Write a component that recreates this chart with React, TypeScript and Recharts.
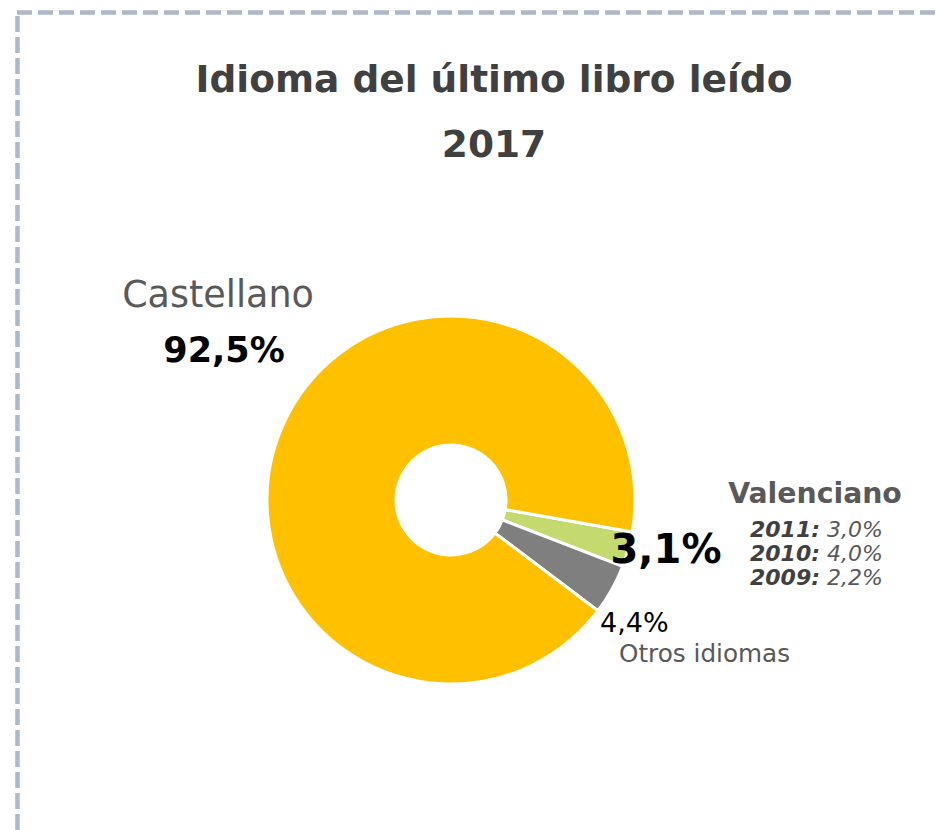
import React from "react";
import { PieChart, Pie, Cell } from "recharts";

const categories = ["Valenciano", "Otros idiomas", "Castellano"];
const values = [3.1, 4.4, 92.5];
const valueLabels = ["3,1%", "4,4%", "92,5%"];
const colors = ["#C4DA6F", "#7F7F7F", "#FFC000"];
const valencianoYears = ["2011:", "2010:", "2009:"];
const valencianoHistory = ["3,0%", "4,0%", "2,2%"];
const titleLines = ["Idioma del último libro leído", "2017"];

const data = categories.map((name, i) => ({ name, value: values[i] }));

const FONT = "'DejaVu Sans', Verdana, sans-serif";

export default function App() {
  return (
    <div style={{ position: "absolute", left: 0, top: 0, width: 940, height: 830, background: "#fff" }}>
      <div style={{ position: "absolute", left: 0, top: 0 }}>
        <PieChart width={940} height={830} margin={{ top: 0, right: 0, bottom: 0, left: 0 }}>
          <Pie
            data={data}
            dataKey="value"
            nameKey="name"
            cx={451}
            cy={500}
            innerRadius={55}
            outerRadius={184}
            startAngle={-10}
            endAngle={-370}
            stroke="#ffffff"
            strokeWidth={3}
            isAnimationActive={false}
            label={false}
            labelLine={false}
          >
            {data.map((d, i) => (
              <Cell key={d.name} fill={colors[i]} />
            ))}
          </Pie>
        </PieChart>
      </div>
      <svg
        width={940}
        height={830}
        style={{ position: "absolute", left: 0, top: 0, pointerEvents: "none" }}
        fontFamily={FONT}
      >
        <line x1={17} y1={12.5} x2={940} y2={12.5} stroke="#adb8ca" strokeWidth={4.5} strokeDasharray="15 6" />
        <line x1={17.5} y1={16} x2={17.5} y2={830} stroke="#adb8ca" strokeWidth={4.5} strokeDasharray="16 5" />

        <text x={494} y={92} textAnchor="middle" fontSize={37.5} fontWeight="bold" fill="#404040">
          {titleLines[0]}
        </text>
        <text x={494} y={157} textAnchor="middle" fontSize={37.5} fontWeight="bold" fill="#404040">
          {titleLines[1]}
        </text>

        <text x={218} y={307} textAnchor="middle" fontSize={36.5} fill="#595959">
          {categories[2]}
        </text>
        <text x={224} y={362} textAnchor="middle" fontSize={35} fontWeight="bold" fill="#000">
          {valueLabels[2]}
        </text>

        <text x={815} y={503} textAnchor="middle" fontSize={28.3} fontWeight="bold" fill="#595959">
          {categories[0]}
        </text>
        <text x={666} y={563} textAnchor="middle" fontSize={40} fontWeight="bold" fill="#000">
          {valueLabels[0]}
        </text>
        {valencianoYears.map((y, i) => (
          <text key={y} x={750} y={537 + i * 24} fontSize={22} fill="#404040" fontStyle="italic">
            <tspan fontWeight="bold">{y}</tspan>
            <tspan fill="#595959"> {valencianoHistory[i]}</tspan>
          </text>
        ))}

        <text x={600} y={632} fontSize={27} fill="#000">
          {valueLabels[1]}
        </text>
        <text x={619} y={662} fontSize={24.7} fill="#595959">
          {categories[1]}
        </text>
      </svg>
    </div>
  );
}
